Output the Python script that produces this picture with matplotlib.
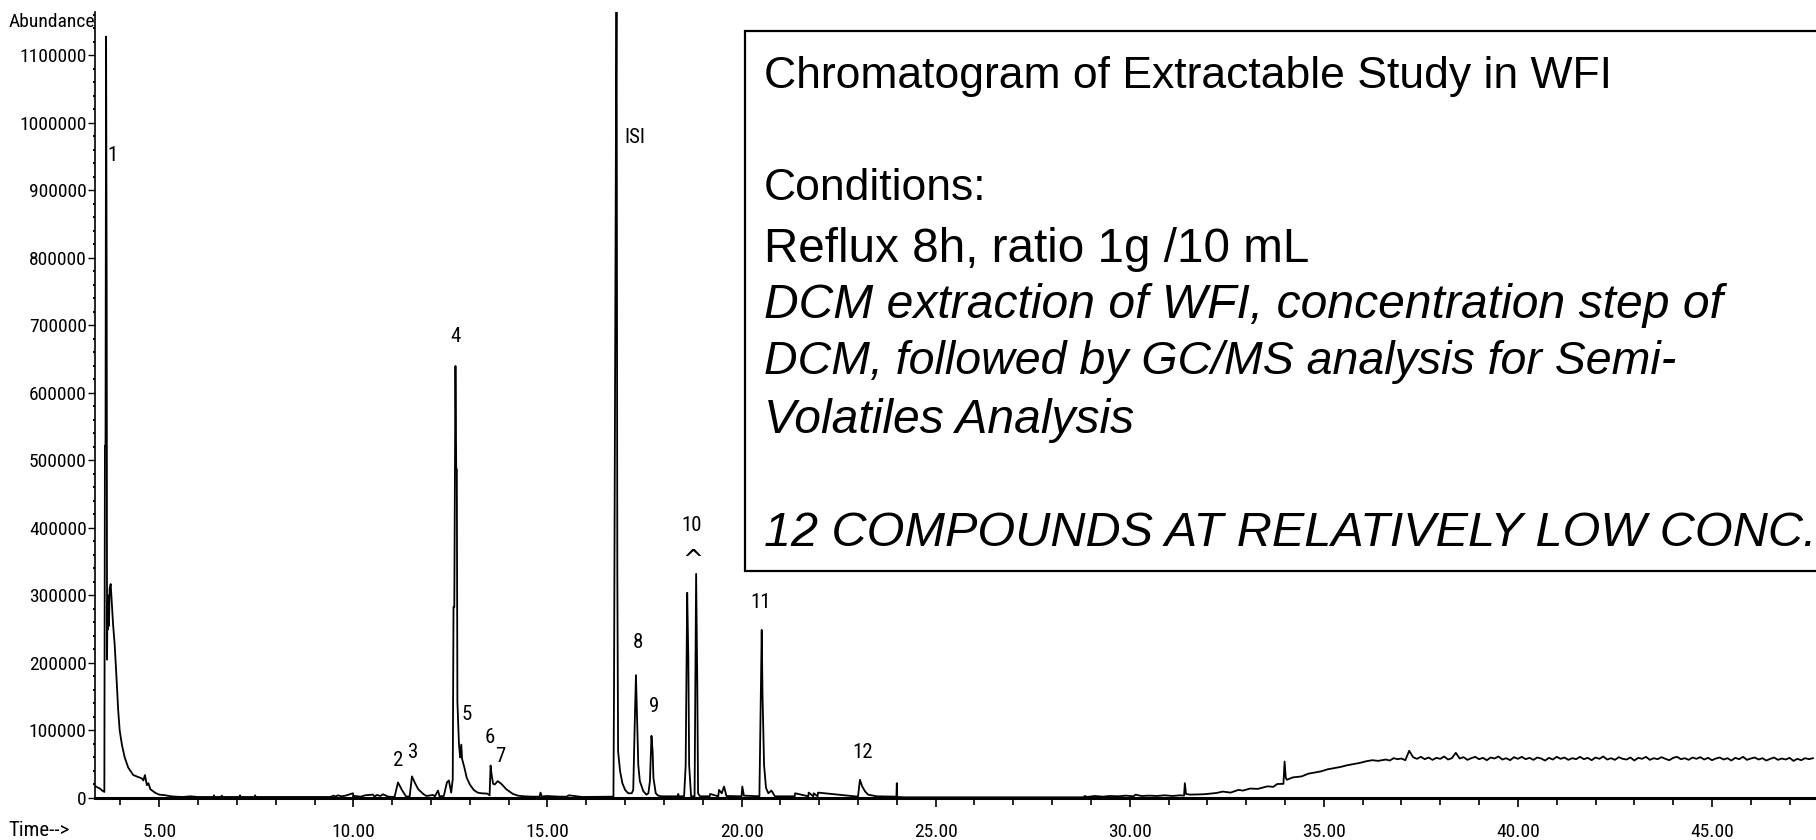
import numpy as np
import matplotlib
matplotlib.use('Agg')
import matplotlib.pyplot as plt
from matplotlib import font_manager
from matplotlib.patches import Rectangle
from matplotlib.ticker import MultipleLocator, FormatStrFormatter

# pick a narrow face for the instrument-style labels if there is one
ttf = font_manager.fontManager.ttflist
installed = {f.name for f in ttf}
candidates = ['Liberation Sans Narrow', 'DejaVu Sans Condensed', 'Roboto Condensed',
              'Open Sans Condensed', 'Arial Narrow']
narrow = next((c for c in candidates if c in installed), None)
stretch = 'normal'
if narrow is None and any(f.name == 'DejaVu Sans' and f.stretch == 'condensed' for f in ttf):
    narrow, stretch = 'DejaVu Sans', 'condensed'
if narrow is None:
    narrow = 'Liberation Sans'
    small = 12
else:
    small = 14
plt.rcParams['font.family'] = [narrow, 'DejaVu Sans']
plt.rcParams['font.stretch'] = stretch

# --- trace, read off the TIC in pieces (time in min, abundance) ---
# solvent front + peak 1
t_front = [3.34, 3.40, 3.47, 3.53, 3.585, 3.60, 3.615, 3.63, 3.645, 3.655, 3.665, 3.678,
           3.69, 3.704, 3.72, 3.748, 3.765, 3.81, 3.85, 3.90, 3.94, 3.98, 4.04, 4.11,
           4.20, 4.33, 4.46, 4.55, 4.59, 4.63, 4.68, 4.72, 4.77, 4.84, 4.90, 5.00,
           5.16, 5.30, 5.42, 5.60, 5.80, 6.00]
y_front = [18000, 16000, 14000, 11000, 9000, 522000, 522000, 1128000, 750000, 205000,
           290000, 250000, 300000, 255000, 310000, 317000, 300000, 257000, 228000, 176000,
           131000, 100000, 78000, 60000, 45000, 34000, 31000, 29000, 26000, 34000, 19000,
           22000, 13000, 10000, 7500, 5000, 4000, 2500, 2000, 1500, 2500, 1500]

# quiet stretch 6-11 min
t_quiet = [6.40, 6.41, 6.42, 6.60, 6.61, 6.62, 7.07, 7.08, 7.09, 7.46, 7.47, 7.48,
           9.40, 9.50, 9.55, 9.60, 9.70, 9.80, 9.99, 10.00, 10.01, 10.20, 10.30, 10.50,
           10.55, 10.60, 10.70, 10.76, 10.90]
y_quiet = [1500, 4000, 1500, 1500, 3500, 1500, 1500, 4000, 1500, 1500, 4000, 1500,
           1500, 3500, 2000, 4000, 2500, 3500, 7000, 1500, 3000, 2000, 4000, 5000,
           2000, 4500, 3000, 5500, 2000]

# peaks 2-7
t_mid = [11.06, 11.15, 11.25, 11.36, 11.45, 11.51, 11.58, 11.67, 11.80, 11.88, 12.05,
         12.10, 12.18, 12.22, 12.33, 12.41, 12.46, 12.52, 12.56, 12.58, 12.60, 12.63,
         12.65, 12.665, 12.68, 12.72, 12.75, 12.78, 12.80, 12.86, 12.92, 13.00, 13.10,
         13.20, 13.30, 13.45, 13.51, 13.535, 13.56, 13.60, 13.64, 13.72, 13.81, 13.94,
         14.11, 14.24, 14.40, 14.60, 14.80, 14.82, 14.86, 14.97, 15.30, 15.50, 15.55,
         15.90]
y_mid = [1500, 23000, 12000, 2000, 2500, 32000, 23000, 13000, 6000, 3000, 4500,
         2500, 11000, 2500, 3000, 23000, 26000, 8000, 28000, 283000, 283000, 640000,
         487000, 487000, 143000, 80000, 60000, 79000, 58000, 45000, 30000, 20000, 12000,
         8000, 7000, 6500, 4000, 48000, 35000, 21000, 20000, 25000, 21000, 13000,
         6000, 3500, 2500, 2000, 2000, 8000, 2000, 3000, 2000, 2000, 4000,
         1500]

# ISI and peaks 8-12
t_late = [16.70, 16.715, 16.78, 16.80, 16.82, 16.87, 16.93, 17.00, 17.08, 17.17, 17.21,
          17.25, 17.28, 17.31, 17.34, 17.38, 17.47, 17.55, 17.60, 17.64, 17.68, 17.71,
          17.73, 17.79, 17.85, 17.94, 18.36, 18.37, 18.38, 18.52, 18.56, 18.60, 18.63,
          18.65, 18.70, 18.79, 18.81, 18.83, 18.86, 18.88, 18.93, 19.18, 19.19, 19.40,
          19.42, 19.49, 19.55, 19.61, 20.00, 20.02, 20.06, 20.46, 20.49, 20.52, 20.54,
          20.58, 20.63, 20.69, 20.77, 20.86, 21.37, 21.38, 21.72, 21.73, 21.85, 21.86,
          21.96, 21.97, 23.00, 23.05, 23.11, 23.18, 23.26, 23.48, 23.99, 24.00, 24.01,
          24.20]
y_late = [2000, 163000, 1250000, 336000, 69000, 40000, 22000, 12000, 7000, 7000, 12000,
          114000, 182000, 114000, 49000, 25000, 10000, 5000, 7000, 25000, 92000, 69000,
          30000, 7000, 3500, 2500, 2500, 6000, 2500, 2500, 47000, 304000, 205000,
          49000, 2500, 2500, 170000, 332000, 170000, 7000, 2500, 2500, 6000, 2500,
          12000, 7000, 17000, 3000, 2500, 17000, 3500, 2500, 131000, 249000, 155000,
          49000, 15000, 7000, 11000, 2500, 2500, 7000, 2500, 8000, 2500, 7000,
          2500, 8000, 2000, 27000, 17000, 10000, 5000, 2500, 2000, 22000, 1500,
          1000]

# column bleed rising from ~31 min
t_bleed = [28.80, 28.85, 28.90, 29.10, 29.30, 29.50, 29.70, 29.90, 30.10, 30.15, 30.30,
           30.50, 30.70, 30.90, 31.10, 31.30, 31.40, 31.42, 31.45, 31.55, 31.90, 32.23,
           32.40, 32.60, 32.80, 32.92, 33.10, 33.30, 33.55, 33.70, 33.80, 33.96, 33.99,
           34.02, 34.05, 34.20, 34.43, 34.60, 34.93, 35.10, 35.43, 35.60, 35.93, 36.10,
           36.25, 36.40]
y_bleed = [1000, 3000, 1500, 3000, 2000, 3000, 2500, 3500, 2500, 5000, 3000,
           3500, 3000, 4000, 3000, 4000, 3500, 22000, 6000, 5000, 5500, 7400,
           9500, 8000, 12000, 11000, 14000, 13500, 17300, 16500, 20700, 21000, 54000,
           30000, 27000, 30500, 32000, 36000, 39500, 42500, 46000, 48500, 52000, 54500,
           56000, 55000]

# plateau, sampled every 0.1 min from 36.6 to 47.6
t_plateau = np.linspace(36.6, 47.6, 111)
y_plateau = [57000, 55500, 59000, 57500, 58500, 56000, 70000, 60500, 58000, 61000,
             57500, 60000, 56500, 59500, 58000, 61500, 57000, 59000, 67000, 58500,
             60500, 56500, 59000, 61000, 57500, 59500, 56000, 60000, 58500, 61500,
             57000, 59000, 56000, 60500, 58000, 61000, 57500, 59500, 56500, 60000,
             58500, 55500, 59500, 57000, 61000, 58000, 60000, 56500, 59000, 57500,
             61000, 57500, 59500, 56000, 60000, 58000, 61500, 57000, 59000, 56500,
             60500, 58000, 57000, 60000, 55500, 59500, 58000, 61000, 56500, 59000,
             57500, 60500, 58000, 56000, 59500, 61000, 57500, 59000, 56500, 60000,
             58000, 60500, 57000, 59500, 56000, 58500, 60000, 57000, 59000, 55500,
             59500, 57500, 61000, 56500, 58500, 60000, 57000, 59000, 55500, 58000,
             60000, 56500, 58500, 57000, 59500, 55000, 58000, 56000, 59000, 57500,
             59000]

times = np.concatenate([t_front, t_quiet, t_mid, t_late, t_bleed, t_plateau])
abundance = np.concatenate([y_front, y_quiet, y_mid, y_late, y_bleed, y_plateau])

# peak numbering
peak_names = ['1', 'ISI', '4', '2', '3', '5', '6', '7', '8', '9', '10', '11', '12']
peak_t = [3.79, 17.26, 12.62, 11.15, 11.54, 12.93, 13.52, 13.78, 17.33, 17.74, 18.72, 20.50, 23.13]
peak_y = [952000, 979000, 684000, 55000, 67000, 123000, 89000, 61000, 230000, 135000,
          404000, 290000, 68000]
# caret under "10": the label covers both halves of the doublet
caret_t, caret_y = 18.74, 352000

box_lines = ['Chromatogram of Extractable Study in WFI',
             'Conditions:',
             'Reflux 8h, ratio 1g /10 mL',
             'DCM extraction of WFI, concentration step of',
             'DCM, followed by GC/MS analysis for Semi-',
             'Volatiles Analysis',
             '12 COMPOUNDS AT RELATIVELY LOW CONC.']
box_styles = ['normal', 'normal', 'normal', 'italic', 'italic', 'italic', 'italic']

W, H = 1816, 840
fig = plt.figure(figsize=(W / 100, H / 100), dpi=100)
ax = fig.add_axes([95 / W, 42 / H, 1 - 95 / W, (798 - 12) / H])

ax.plot(times, abundance, color='black', lw=1.3)

ax.set_xlim(3.344, 47.68)
ax.set_ylim(0, 1164400)
for s in ['top', 'right']:
    ax.spines[s].set_visible(False)
ax.spines['bottom'].set_linewidth(2.2)
ax.spines['left'].set_linewidth(1.2)

ax.xaxis.set_major_locator(MultipleLocator(5))
ax.xaxis.set_minor_locator(MultipleLocator(1))
ax.xaxis.set_major_formatter(FormatStrFormatter('%.2f'))
ax.yaxis.set_major_locator(MultipleLocator(100000))
ax.yaxis.set_minor_locator(MultipleLocator(20000))
ax.yaxis.set_major_formatter(FormatStrFormatter('%d'))

ax.tick_params(axis='x', which='major', direction='out', length=6.5, width=1.2, pad=11.5,
               labelsize=small)
ax.tick_params(axis='x', which='minor', direction='out', length=5, width=1.2)
ax.tick_params(axis='y', which='major', direction='out', length=5, width=1.0, pad=1,
               labelsize=small)
ax.tick_params(axis='y', which='minor', direction='out', length=1.5, width=1.5)

for name, t, y in zip(peak_names, peak_t, peak_y):
    ax.text(t, y, name, ha='center', va='center', fontsize=small + 1)
ax.text(caret_t, caret_y, '^', ha='center', va='center', fontsize=18,
        family='DejaVu Sans', stretch='normal')

fig.text(95 / W, 1 - 22 / H, 'Abundance', ha='right', va='center', fontsize=small)
fig.text(8 / W, 1 - 830 / H, 'Time-->', ha='left', va='center', fontsize=small + 1)

# annotation box, runs off the right edge
box = Rectangle((745 / W, 1 - 571 / H), 0.7, (571 - 31) / H, transform=fig.transFigure,
                facecolor='white', edgecolor='black', lw=1.6, zorder=5)
fig.add_artist(box)
line_y = [76.5, 188.5, 249.5, 305.5, 362.5, 420.5, 533.5]
line_size = [32, 32, 34.3, 34.6, 33.5, 34.6, 35]
for txt, style, yy, fs in zip(box_lines, box_styles, line_y, line_size):
    fig.text(764 / W, 1 - yy / H, txt, ha='left', va='center', fontsize=fs,
             family=['Liberation Sans', 'DejaVu Sans'], style=style, stretch='normal',
             zorder=6)

fig.savefig('out.png', dpi=100)
